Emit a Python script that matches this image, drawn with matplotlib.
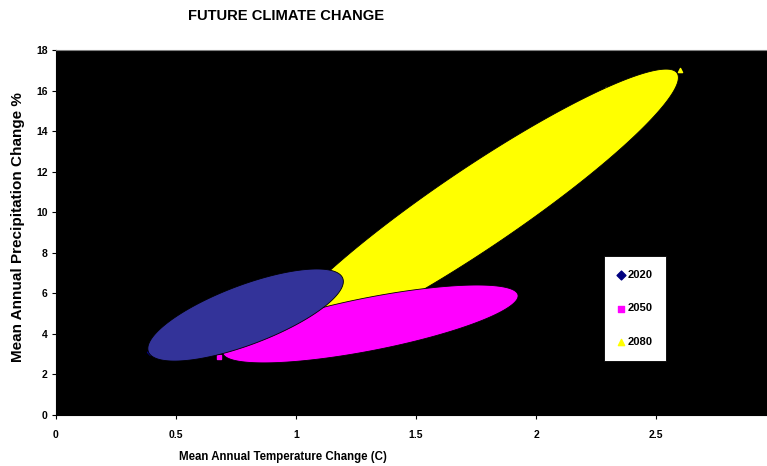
import numpy as np
import matplotlib
matplotlib.use('Agg')
import matplotlib.pyplot as plt
from matplotlib.patches import Polygon

plt.rcParams['font.family'] = ['Liberation Sans', 'DejaVu Sans']
plt.rcParams['font.weight'] = 'bold'

anos = ['2020', '2050', '2080']
# centro de cada elipse (temperatura C, precipitacion %)
centro_temp = [0.79, 1.31, 1.75]
centro_prec = [4.93, 4.49, 10.16]
# extremo del eje mayor
extremo_temp = [1.195, 1.925, 2.588]
extremo_prec = [6.74, 5.92, 16.86]
# eje menor / eje mayor
proporcion = [0.286, 0.176, 0.165]
# puntos de cada serie
puntos_temp = [[0.39], [0.68], [2.60, 2.29]]
puntos_prec = [[3.1], [2.86], [17.0, 16.1]]

relleno = ['#333399', '#FF00FF', '#FFFF00']
color_marca = ['#000080', '#FF00FF', '#FFFF00']
marcas = ['D', 's', '^']

fig = plt.figure(figsize=(7.67, 4.66), dpi=100)
ax = fig.add_axes([56 / 767, 51 / 466, 711 / 767, 365 / 466])
ax.set_facecolor('black')
ax.set_xlim(0, 2.9625)
ax.set_ylim(0, 18)

# pixeles por unidad, para que las elipses salgan bien en pantalla
ancho = fig.get_figwidth() * fig.dpi * ax.get_position().width
alto = fig.get_figheight() * fig.dpi * ax.get_position().height
sx = ancho / 2.9625
sy = alto / 18

t = np.linspace(0, 2 * np.pi, 300)
for i in [0, 1, 2]:
    ax.scatter(puntos_temp[i], puntos_prec[i], marker=marcas[i], s=9,
               color=color_marca[i], zorder=1, label=anos[i])

for i in [2, 1, 0]:
    ux = extremo_temp[i] - centro_temp[i]
    uy = extremo_prec[i] - centro_prec[i]
    vx = -proporcion[i] * uy * sy / sx
    vy = proporcion[i] * ux * sx / sy
    xs = centro_temp[i] + ux * np.cos(t) + vx * np.sin(t)
    ys = centro_prec[i] + uy * np.cos(t) + vy * np.sin(t)
    ax.add_patch(Polygon(np.column_stack([xs, ys]), closed=True,
                         facecolor=relleno[i], edgecolor='black',
                         linewidth=0.6, zorder=2 + (2 - i)))

ax.set_xticks([0, 0.5, 1, 1.5, 2, 2.5])
ax.set_xticklabels(['0', '0.5', '1', '1.5', '2', '2.5'])
ax.set_yticks(range(0, 19, 2))
ax.tick_params(labelsize=7.5, length=3, width=0.8, pad=8)
ax.tick_params(axis='y', pad=3)
ax.spines['right'].set_visible(False)
ax.spines['top'].set_color('#808080')

leg = ax.legend(loc='upper left', bbox_to_anchor=(0.771, 0.435),
                borderaxespad=0, fontsize=8, labelspacing=2.15,
                handlelength=0.6, handletextpad=0.3, borderpad=1.2,
                fancybox=False, framealpha=1, edgecolor='black',
                markerscale=1.5)
leg.get_frame().set_linewidth(0.6)

fig.text(286 / 767, 1 - 16 / 466, 'FUTURE CLIMATE CHANGE', ha='center',
         va='center', fontsize=10.6)
fig.text(283 / 767, 1 - 457 / 466, 'Mean Annual Temperature Change (C)',
         ha='center', va='center', fontsize=8.3)
fig.text(18 / 767, 1 - 227 / 466, 'Mean Annual Precipitation Change %',
         ha='center', va='center', rotation=90, fontsize=11)

plt.savefig('out.png', dpi=100)
plt.close()
